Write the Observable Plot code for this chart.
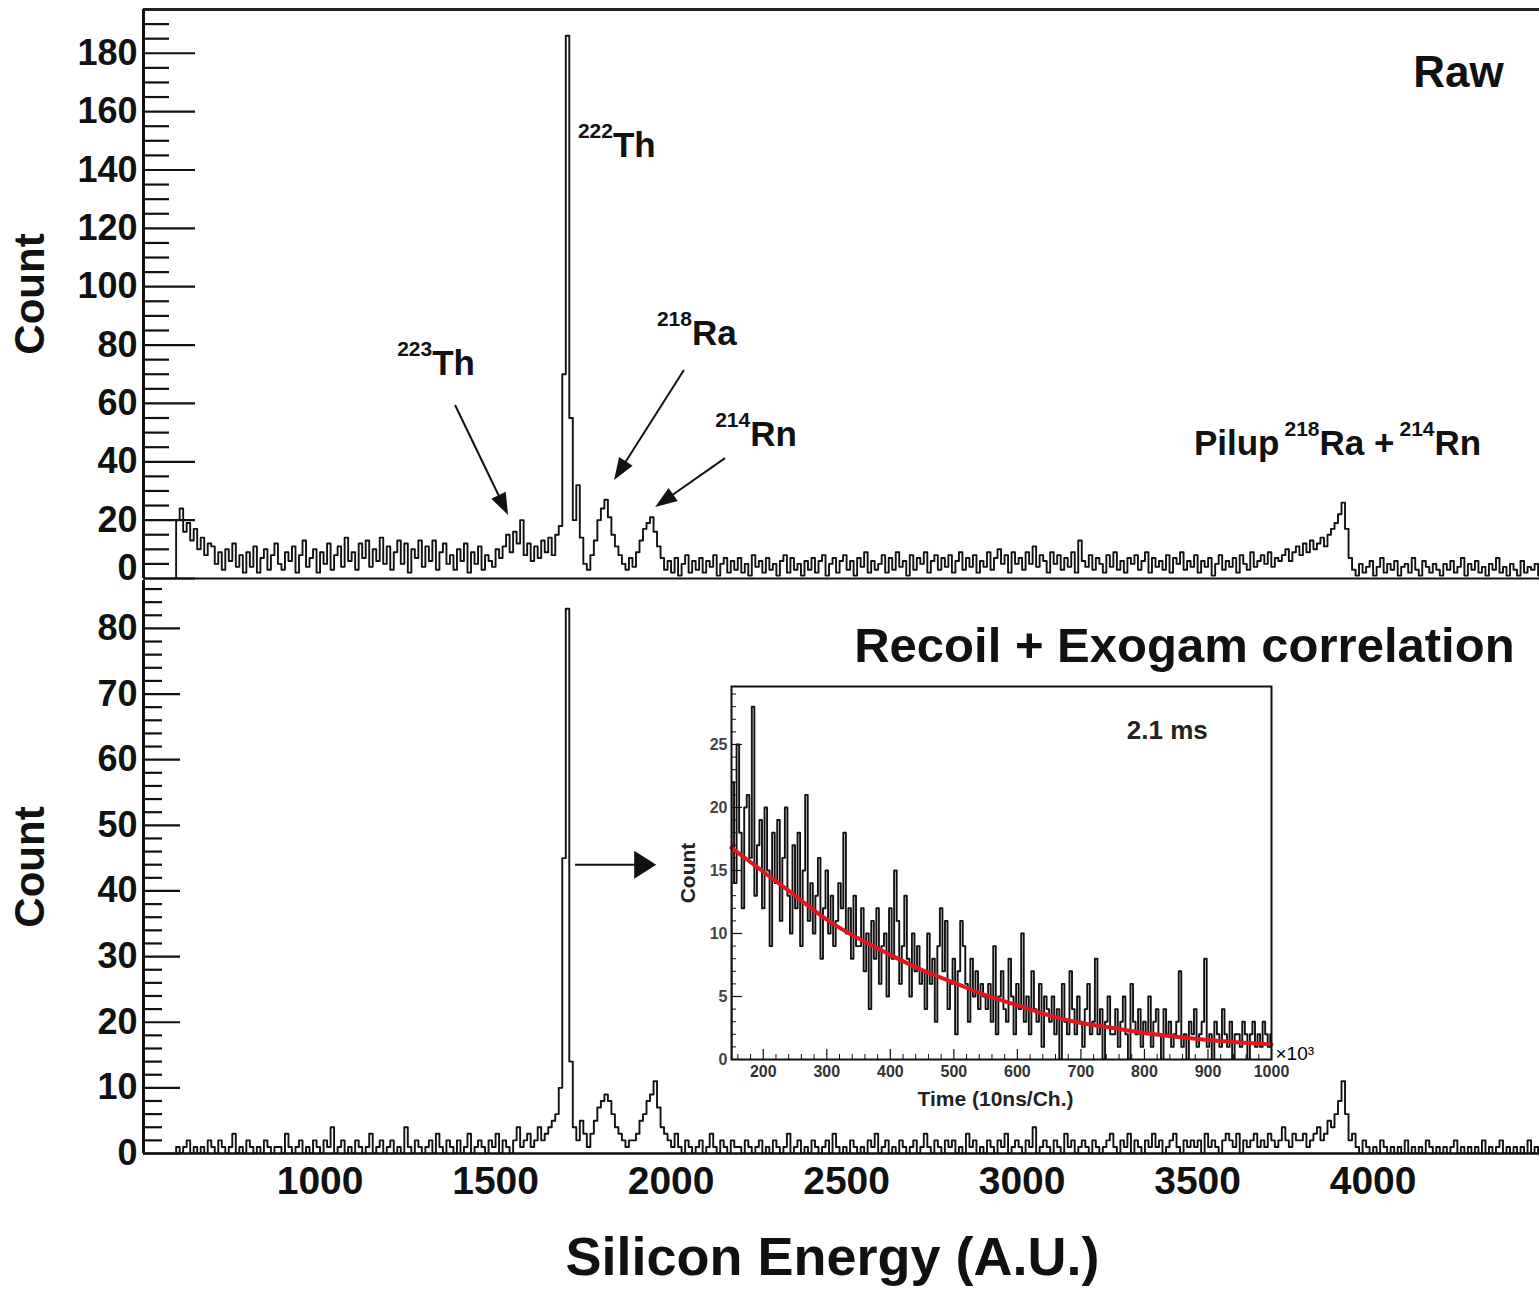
<!DOCTYPE html>
<html><head><meta charset="utf-8">
<script src="https://cdn.jsdelivr.net/npm/d3@7"></script>
<script src="https://cdn.jsdelivr.net/npm/@observablehq/plot@0.6"></script>
<style>
body{margin:0;background:#fff;}
#chart{position:relative;width:1539px;height:1290px;overflow:hidden;background:#fff;}
#chart > svg{position:absolute;}
</style></head><body><div id="chart"></div>
<script>
const FONT = '"Liberation Sans", Arial, Helvetica, sans-serif';

// ---------- data ----------
const energyStart = 590, energyBin = 10;
const energyDomain = [497, 4474];
const rawCounts = [
20,24,16,19,13,17,10,14,8,12, 11,5,9,3,10,6,12,4,8,2, 9,4,11,2,7,10,3,8,12,5, 3,9,6,11,2,8,13,4,7,10,
2,9,5,12,3,8,11,4,14,6, 9,3,12,7,13,4,10,6,14,5, 11,3,9,13,5,12,2,10,7,13, 4,11,6,13,3,9,12,5,8,3,
10,6,12,2,9,5,11,3,8,6, 4,10,7,11,15,9,16,12,20,8, 12,6,11,7,13,9,14,8,15,18, 70,186,55,20,32,14,5,3,8,13,
20,24,27,21,15,11,8,5,3,7, 4,9,13,17,19,21,16,11,7,3, 6,2,7,1,5,8,2,6,3,7, 2,6,4,8,1,5,7,2,6,3,
7,2,5,1,8,4,6,2,7,3, 5,1,6,8,2,7,3,5,1,6, 3,7,2,6,8,1,5,7,2,6, 8,3,6,1,7,4,9,2,6,3,
5,8,2,7,3,9,4,6,1,8, 3,7,5,9,2,6,8,3,7,4, 8,2,6,9,3,7,4,8,2,6, 4,9,3,7,10,5,8,2,9,5,
7,3,9,5,11,4,8,6,2,9, 5,8,3,7,4,9,2,13,6,4, 8,3,7,5,2,8,4,9,3,6, 2,7,5,8,3,6,9,2,7,4,
6,3,8,2,7,5,9,3,6,4, 8,2,6,4,7,1,5,8,3,6, 4,7,2,8,5,3,9,4,6,8, 5,9,4,7,6,8,10,6,9,11,
8,12,9,13,10,12,14,11,15,17, 19,22,26,17,7,3,1,5,2,4, 6,1,4,7,2,5,3,6,1,4, 5,2,7,3,1,6,4,2,5,3,
1,5,3,6,2,4,7,1,5,3, 6,2,4,1,5,3,7,2,4,1, 5,3,1,6,2,4,3,5,1,4
];
const corrCounts = [
1,0,1,2,0,1,0,1,0,2, 1,0,2,1,0,1,3,0,1,0, 2,1,0,1,0,2,1,0,1,1, 0,3,1,0,1,2,0,1,0,2,
1,0,2,1,4,0,1,2,0,1, 0,2,1,0,1,3,0,1,2,0, 1,2,0,1,0,4,1,0,2,1, 0,1,2,0,3,1,0,2,1,0,
2,0,1,3,0,1,2,1,0,2, 1,3,0,2,1,0,2,4,1,2, 3,1,2,4,2,3,4,5,6,10, 45,83,14,4,2,5,3,1,3,5,
7,8,9,8,6,4,3,2,1,2, 2,3,5,6,8,9,11,7,4,3, 2,1,3,1,0,2,1,0,1,2, 0,1,3,1,0,2,1,0,2,1,
1,0,2,1,0,1,2,0,1,0, 2,1,0,1,3,0,1,2,0,1, 0,2,1,0,1,2,0,3,1,0, 1,0,2,1,0,1,0,2,1,3,
0,1,2,0,1,0,2,1,0,1, 2,0,1,3,1,0,2,1,0,2, 1,2,0,1,0,3,1,2,0,1, 0,2,1,0,2,1,3,0,1,2,
1,0,2,1,4,0,1,2,1,0, 2,1,0,3,1,2,0,1,2,1, 0,2,1,0,1,2,3,1,0,2, 1,3,0,2,1,0,2,1,3,1,
2,0,1,2,3,1,0,2,1,2, 1,2,0,3,1,2,1,0,2,3, 2,1,3,0,2,1,2,3,1,2, 1,3,2,1,2,4,2,1,3,2,
2,3,1,2,3,4,2,3,5,4, 6,8,11,6,2,3,1,0,2,1, 0,1,0,2,1,0,1,0,1,0, 2,0,1,0,1,0,2,1,0,1,
0,1,0,1,2,0,1,0,1,0, 1,0,2,0,1,0,1,2,0,1, 0,1,0,1,0,2,0,1,0,1
];
const topYMax = 195, bottomYMax = 87.3;
const topMajorTicks = [0,20,40,60,80,100,120,140,160,180];
const bottomMajorTicks = [0,10,20,30,40,50,60,70,80];
const energyTicks = [1000,1500,2000,2500,3000,3500,4000];

// inset: decay time spectrum
const timeStart = 150, timeBin = 4;
const timeDomain = [150, 1000], insetYMax = 29.6;
const decayCounts = [
22,14,25,18,12,20,21,16,28,13,17,19,12,20,15,9,18,14,19,11,16,20,13,10,17,
12,18,9,15,21,11,14,10,13,16,8,12,15,10,13,9,11,14,12,18,10,12,8,13,9,
9,12,7,10,4,11,8,12,6,9,10,5,12,8,15,11,6,9,13,8,5,10,7,9,6,
7,4,10,6,8,3,9,12,7,11,4,6,8,2,7,11,9,6,3,8,5,7,4,6,5,
4,6,3,9,2,5,7,4,3,8,5,2,6,4,10,3,5,2,7,4,3,6,1,5,4,
3,5,2,4,0,6,3,2,7,4,2,5,3,1,4,6,2,3,8,2,4,0,3,5,2,
2,4,1,3,5,2,0,6,3,2,4,1,3,2,5,1,3,4,2,0,4,2,3,1,2,
3,7,1,2,0,3,2,4,1,2,3,8,1,2,0,3,2,1,4,2,1,3,0,2,2,
1,3,2,0,2,3,1,2,1,3,2,1,2
];
const fitTime  = [150,200,250,300,350,400,450,500,550,600,650,700,750,800,850,900,950,1000];
const fitCount = [16.8,14.9,13.0,11.1,9.6,8.3,7.1,6.1,5.1,4.3,3.5,2.9,2.5,2.1,1.8,1.55,1.35,1.2];
const insetYTicks = [0,5,10,15,20,25];
const insetXTicks = [200,300,400,500,600,700,800,900,1000];

// annotations (data units); parts: [text, superscript?, dx]
const topLabelX = [1221, 1736, 1961, 2127, 3491];
const topLabelY = [69.6, 144.3, 79.8, 45.2, 42.2];
const topLabelParts = [
  [["223",1],["Th",0]],
  [["222",1],["Th",0]],
  [["218",1],["Ra",0]],
  [["214",1],["Rn",0]],
  [["Pilup",0],["218",1,5],["Ra +",0],["214",1,5],["Rn",0]]
];
const topArrowFrom = [[1386,59.3],[2038,71.3],[2155,41.1]];
const topArrowTo   = [[1537,21.6],[1839,33.6],[1956,24.3]];
const bottomArrowFrom = [[1728,43.9]];
const bottomArrowTo   = [[1959,43.9]];

// ---------- helpers ----------
function histPoints(start, width, counts) {
  const pts = [{x: start, y: 0}];
  counts.forEach((c, i) => pts.push({x: start + i * width, y: c}));
  pts.push({x: start + counts.length * width, y: counts[counts.length - 1]});
  return pts;
}
function arrows(from, to, head, half, width) {
  return (index, scales) => {
    const g = d3.create("svg:g");
    from.forEach((f, i) => {
      const t = to[i];
      const x1 = scales.x(f[0]), y1 = scales.y(f[1]), x2 = scales.x(t[0]), y2 = scales.y(t[1]);
      const a = Math.atan2(y2 - y1, x2 - x1), c = Math.cos(a), s = Math.sin(a);
      const bx = x2 - head * c, by = y2 - head * s;
      g.append("line").attr("x1", x1).attr("y1", y1).attr("x2", bx + c).attr("y2", by + s)
        .attr("stroke", "#111").attr("stroke-width", width);
      g.append("path").attr("d", `M${x2},${y2}L${bx - half * s},${by + half * c}L${bx + half * s},${by - half * c}Z`)
        .attr("fill", "#111");
    });
    return g.node();
  };
}
function richLabels(xs, ys, parts, size, supSize, raise) {
  return (index, scales) => {
    const g = d3.create("svg:g").attr("font-family", FONT).attr("font-weight", "bold")
      .attr("fill", "#111").attr("text-anchor", "start");
    xs.forEach((xv, i) => {
      const t = g.append("text").attr("x", scales.x(xv)).attr("y", scales.y(ys[i]))
        .attr("text-anchor", "start").attr("font-size", size);
      let up = false;
      for (const [str, sup, dx] of parts[i]) {
        const sp = t.append("tspan").text(str);
        if (dx) sp.attr("dx", dx);
        if (sup) { sp.attr("font-size", supSize); if (!up) { sp.attr("dy", -raise); up = true; } }
        else if (up) { sp.attr("dy", raise); up = false; }
      }
    });
    return g.node();
  };
}
function minorTicks(max, step, majors) {
  const out = [];
  for (let v = 0; v <= max + 1e-9; v += step) if (!majors.some(m => Math.abs(m - v) < 1e-9)) out.push(v);
  return out;
}
const plain = d => String(d);

const chart = document.getElementById("chart");
const baseStyle = {fontFamily: FONT, background: "transparent", overflow: "visible", color: "#111"};

// ---------- top panel (Raw) ----------
const topPlot = Plot.plot({
  width: 1539, height: 580,
  marginLeft: 143, marginRight: 0, marginTop: 9, marginBottom: 2,
  x: {domain: energyDomain, axis: null},
  y: {domain: [0, topYMax]},
  style: baseStyle,
  marks: [
    Plot.line(histPoints(energyStart, energyBin, rawCounts), {x: "x", y: "y", curve: "step-after", stroke: "#111", strokeWidth: 1.9, clip: true}),
    Plot.axisY(minorTicks(topYMax, 5, topMajorTicks), {tickSize: 26, dx: 26, strokeWidth: 2.2, fill: "none", label: null}),
    Plot.axisY(topMajorTicks, {tickSize: 52, dx: 52, strokeWidth: 2.2, fill: "none", label: null}),
    Plot.axisY(topMajorTicks.slice(1), {tickSize: 0, tickPadding: 6, tickFormat: plain, fontSize: 36, fontWeight: "bold", label: null}),
    Plot.axisY(topMajorTicks.slice(0, 1), {tickSize: 0, tickPadding: 6, dy: -10, tickFormat: plain, fontSize: 36, fontWeight: "bold", label: null}),
    Plot.ruleX([energyDomain[0]], {strokeWidth: 3, stroke: "#111"}),
    Plot.ruleY([topYMax], {strokeWidth: 3, stroke: "#222"}),
    Plot.ruleY([0], {strokeWidth: 2, stroke: "#111"}),
    Plot.text(["Count"], {text: d => d, frameAnchor: "left", textAnchor: "middle", rotate: -90, dx: -113, fontSize: 42, fontWeight: "bold", fill: "#111"}),
    Plot.text(["Raw"], {text: d => d, x: 4372, y: 168.6, textAnchor: "end", lineAnchor: "bottom", dy: 0, fontSize: 44, fontWeight: "bold", fill: "#111"}),
    richLabels(topLabelX, topLabelY, topLabelParts, 35, 21, 19),
    arrows(topArrowFrom, topArrowTo, 22, 8, 2)
  ]
});
topPlot.style.left = "0px"; topPlot.style.top = "0px";
chart.appendChild(topPlot);

// ---------- bottom panel (Recoil + Exogam) ----------
const bottomPlot = Plot.plot({
  width: 1539, height: 711,
  marginLeft: 143, marginRight: 0, marginTop: 1, marginBottom: 137,
  x: {domain: energyDomain},
  y: {domain: [0, bottomYMax]},
  style: baseStyle,
  marks: [
    Plot.line(histPoints(energyStart, energyBin, corrCounts), {x: "x", y: "y", curve: "step-after", stroke: "#111", strokeWidth: 1.9, clip: true}),
    Plot.axisY(minorTicks(bottomYMax, 2, bottomMajorTicks), {tickSize: 19, dx: 19, strokeWidth: 2.2, fill: "none", label: null}),
    Plot.axisY(bottomMajorTicks, {tickSize: 37, dx: 37, strokeWidth: 2.2, fill: "none", label: null}),
    Plot.axisY(bottomMajorTicks, {tickSize: 0, tickPadding: 6, tickFormat: plain, fontSize: 36, fontWeight: "bold", label: null}),
    Plot.axisX(energyTicks, {tickSize: 0, tickPadding: 13, tickFormat: plain, fontSize: 39, fontWeight: "bold", label: null}),
    Plot.ruleX([energyDomain[0]], {strokeWidth: 3, stroke: "#111"}),
    Plot.ruleY([0], {strokeWidth: 2.5, stroke: "#111"}),
    Plot.text(["Count"], {text: d => d, frameAnchor: "left", textAnchor: "middle", rotate: -90, dx: -113, fontSize: 42, fontWeight: "bold", fill: "#111"}),
    Plot.text(["Silicon Energy (A.U.)"], {text: d => d, frameAnchor: "bottom", textAnchor: "middle", dx: -9, dy: 121, fontSize: 54, fontWeight: "bold", fill: "#111"}),
    Plot.text(["Recoil + Exogam correlation"], {text: d => d, x: 4403, y: 75.0, textAnchor: "end", lineAnchor: "bottom", dy: 1, fontSize: 49, fontWeight: "bold", fill: "#111"}),
    arrows(bottomArrowFrom, bottomArrowTo, 22, 14, 2)
  ]
});
bottomPlot.style.left = "0px"; bottomPlot.style.top = "579px";
chart.appendChild(bottomPlot);

// ---------- inset (decay time) ----------
const insetPlot = Plot.plot({
  width: 655, height: 437,
  marginLeft: 60, marginRight: 55, marginTop: 6, marginBottom: 58,
  x: {domain: timeDomain},
  y: {domain: [0, insetYMax]},
  style: baseStyle,
  marks: [
    Plot.frame({fill: "white", stroke: "none"}),
    Plot.line(histPoints(timeStart, timeBin, decayCounts), {x: "x", y: "y", curve: "step-after", stroke: "#111", strokeWidth: 1.9, clip: true}),
    Plot.line(fitTime.map((t, i) => ({t, c: fitCount[i]})), {x: "t", y: "c", curve: "natural", stroke: "#e3171d", strokeWidth: 4}),
    Plot.axisY(minorTicks(insetYMax, 1, insetYTicks), {tickSize: 5, dx: 5, strokeWidth: 1, fill: "none", label: null}),
    Plot.axisY(insetYTicks, {tickSize: 11, dx: 11, strokeWidth: 1.2, fill: "none", label: null}),
    Plot.axisY(insetYTicks, {tickSize: 0, tickPadding: 4, tickFormat: plain, fontSize: 16, fontWeight: "bold", fill: "#444", label: null}),
    Plot.axisX(d3.range(160, 1001, 20).filter(v => v % 100 !== 0), {tickSize: 5, dy: -5, strokeWidth: 1, fill: "none", label: null}),
    Plot.axisX(insetXTicks, {tickSize: 10, dy: -10, strokeWidth: 1.2, fill: "none", label: null}),
    Plot.axisX(insetXTicks, {tickSize: 0, tickPadding: 6, tickFormat: plain, fontSize: 16, fontWeight: "bold", fill: "#333", label: null}),
    Plot.frame({stroke: "#111", strokeWidth: 2}),
    Plot.text(["Count"], {text: d => d, frameAnchor: "left", textAnchor: "middle", rotate: -90, dx: -43, fontSize: 21, fontWeight: "bold", fill: "#222"}),
    Plot.text(["Time (10ns/Ch.)"], {text: d => d, frameAnchor: "bottom", textAnchor: "middle", dx: -6, dy: 46, fontSize: 21, fontWeight: "bold", fill: "#222"}),
    Plot.text(["2.1 ms"], {text: d => d, x: 836, y: 26.1, fontSize: 26, fontWeight: "bold", fill: "#222"}),
    Plot.text(["×10³"], {text: d => d, frameAnchor: "bottom-right", textAnchor: "start", lineAnchor: "bottom", dx: 4, dy: 0, fontSize: 19, fontWeight: "normal", fill: "#000"})
  ]
});
insetPlot.style.left = "671px"; insetPlot.style.top = "680px";
chart.appendChild(insetPlot);
</script></body></html>
